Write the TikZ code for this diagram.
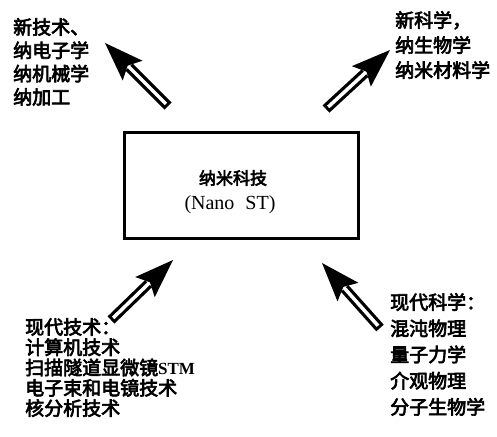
\documentclass[tikz,border=0pt]{standalone}
\usepackage{fontspec}
\setmainfont{Liberation Serif}
\newfontfamily\cjk[FakeBold=3.5]{Noto Sans CJK SC}
\usetikzlibrary{calc}
\tikzset{
  lbl/.style={anchor=north west, inner sep=0pt, align=left},
  mainbox/.style={draw, line width=3pt, minimum width=234pt, minimum height=106pt, inner sep=0pt},
}
\newcommand\hollowarrow[2]{%
  \draw[line width=10pt] (#1) -- ($(#2)!34pt!(#1)$);
  \draw[white, line width=3.5pt] ($(#1)!3pt!(#2)$) -- ($(#2)!30pt!(#1)$);
  \fill (#2) -- ($($(#2)!39pt!(#1)$)!14pt!90:(#2)$) -- ($(#2)!32pt!(#1)$) -- ($($(#2)!39pt!(#1)$)!14pt!-90:(#2)$) -- cycle;
}
\begin{document}
\begin{tikzpicture}[x=1pt,y=-1pt]
\useasboundingbox (0,0) rectangle (497,436);
\node[mainbox] (box) at (241,185) {};
\node[inner sep=0pt, font=\cjk\fontsize{17}{17}\selectfont] (t1) at (233,178) {纳米科技};
\node[inner sep=0pt, font=\fontsize{20}{20}\selectfont] (t2) at (230,205) {(Nano\hspace{0.55em}ST)};

\node[lbl, font=\cjk\fontsize{19}{23.3}\selectfont] (tl) at (13,18) {新技术、\\纳电子学\\纳机械学\\纳加工};
\node[lbl, font=\cjk\fontsize{19}{25}\selectfont] (tr) at (395,11) {新科学，\\纳生物学\\纳米材料学};
\node[lbl, font=\cjk\fontsize{19}{20.3}\selectfont] (bl) at (25,318) {现代技术：\\计算机技术\\扫描隧道显微镜{\rmfamily\bfseries\fontsize{17}{20.3}\selectfont STM}\\电子束和电镜技术\\核分析技术};
\node[lbl, font=\cjk\fontsize{19}{26.2}\selectfont] (br) at (390,293) {现代科学：\\混沌物理\\量子力学\\介观物理\\分子生物学};

\coordinate (a1t) at (168,106); \coordinate (a1h) at (105,43);
\coordinate (a2t) at (326,109); \coordinate (a2h) at (390,50);
\coordinate (a3t) at (111,320); \coordinate (a3h) at (173,260);
\coordinate (a4t) at (380,328); \coordinate (a4h) at (322,263);
\hollowarrow{a1t}{a1h}
\hollowarrow{a2t}{a2h}
\hollowarrow{a3t}{a3h}
\hollowarrow{a4t}{a4h}
\end{tikzpicture}
\end{document}
